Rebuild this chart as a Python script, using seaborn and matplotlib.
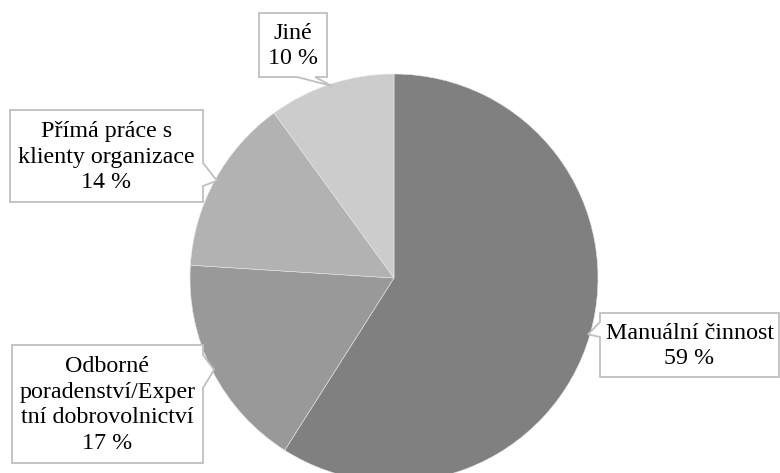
import matplotlib
matplotlib.use("Agg")
import matplotlib.pyplot as plt
import matplotlib.transforms as mtransforms
from matplotlib.path import Path
from matplotlib.patches import PathPatch
import numpy as np
import seaborn as sns

# Activity types and their shares (%)
categories = [
    "Manuální činnost",
    "Odborné\nporadenství/Exper\ntní dobrovolnictví",
    "Přímá práce s\nklienty organizace",
    "Jiné",
]
shares = [59, 17, 14, 10]
colors = ["#808080", "#999999", "#b2b2b2", "#cccccc"]

W, H = 780, 473          # canvas size in pixels
CX, CY, R = 394, 278, 204  # pie centre / radius in pixels (y measured from top)

sns.set_theme(style="white")
plt.rcParams["font.family"] = ["Liberation Serif", "DejaVu Serif"]

fig = plt.figure(figsize=(W / 100, H / 100), dpi=100)
ax = fig.add_axes([(CX - R) / W, (H - CY - R) / H, 2 * R / W, 2 * R / H])
ax.pie(shares, colors=colors, startangle=90, counterclock=False, radius=1,
       wedgeprops=dict(edgecolor="#e6e6e6", linewidth=0.4))
ax.set_xlim(-1, 1)
ax.set_ylim(-1, 1)
ax.axis("off")

# pixel coordinates with origin at the top-left corner
px = mtransforms.Affine2D().scale(1 / W, -1 / H).translate(0, 1) + fig.transFigure

# callout boxes: (left, top, right, bottom), side of the pointer, pointer base span
callouts = [
    ((600, 313, 779, 377), "left", (322, 337)),
    ((12, 345, 203, 463), "right", (355, 388)),
    ((10, 110, 203, 202), "right", (163, 186)),
    ((259, 13, 327, 77), "bottom", (297, 315)),
]

total = sum(shares)
cum = np.cumsum([0] + shares[:-1])
for label, val, c0, (box, side, (b0, b1)) in zip(categories, shares, cum, callouts):
    mid = np.deg2rad(90 - 360 * (c0 + val / 2) / total)
    tip = (CX + R * 0.99 * np.cos(mid), CY - R * 0.99 * np.sin(mid))
    l, t, r, b = box
    pts = [(l, t)]
    if side == "top":
        pts += [(b0, t), tip, (b1, t)]
    pts.append((r, t))
    if side == "right":
        pts += [(r, b0), tip, (r, b1)]
    pts.append((r, b))
    if side == "bottom":
        pts += [(b1, b), tip, (b0, b)]
    pts.append((l, b))
    if side == "left":
        pts += [(l, b1), tip, (l, b0)]
    pts.append((l, t))
    codes = [Path.MOVETO] + [Path.LINETO] * (len(pts) - 2) + [Path.CLOSEPOLY]
    patch = PathPatch(Path(pts, codes), facecolor="white", edgecolor="#bfbfbf",
                      linewidth=1.3, transform=px, zorder=5)
    fig.add_artist(patch)
    fig.text((l + r) / 2, (t + b) / 2 + 1, f"{label}\n{val} %", transform=px,
             ha="center", va="center", fontsize=17.3, linespacing=1.3,
             color="black", zorder=6)

fig.savefig("out.png", dpi=100)
